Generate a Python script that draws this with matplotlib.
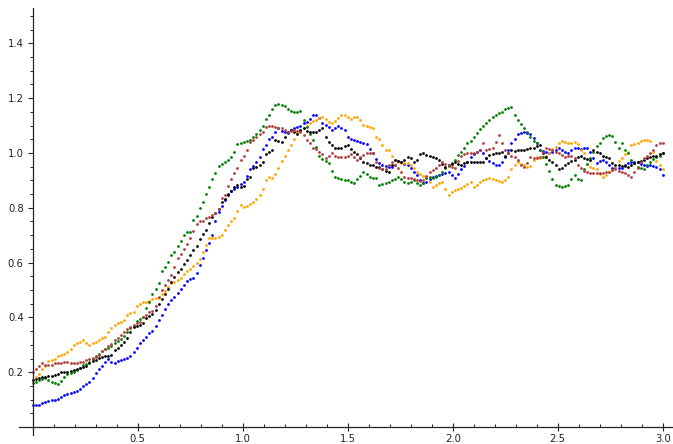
import numpy as np
import matplotlib
matplotlib.use("Agg")
import matplotlib.pyplot as plt
from matplotlib.ticker import FixedLocator

step = 0.015
x_values = [round(i * step, 3) for i in range(201)]

blue = [
    0.080, 0.079, 0.081, 0.086, 0.090, 0.094, 0.097, 0.100, 0.104, 0.109,
    0.117, 0.121, 0.124, 0.128, 0.131, 0.137, 0.148, 0.156, 0.165, 0.178,
    0.196, 0.210, 0.221, 0.238, 0.248, 0.236, 0.232, 0.240, 0.244, 0.247,
    0.252, 0.258, 0.272, 0.290, 0.306, 0.317, 0.330, 0.342, 0.350, 0.368,
    0.392, 0.410, 0.432, 0.448, 0.462, 0.476, 0.488, 0.505, 0.520, 0.534,
    0.540, 0.545, 0.562, 0.590, 0.618, 0.645, 0.672, 0.702, 0.750, 0.785,
    0.805, 0.830, 0.850, 0.862, 0.870, 0.876, 0.886, 0.893, 0.915, 0.940,
    0.952, 0.968, 0.985, 1.015, 1.030, 1.050, 1.060, 1.075, 1.090, 1.082,
    1.076, 1.072, 1.085, 1.092, 1.096, 1.100, 1.108, 1.112, 1.125, 1.138,
    1.140, 1.128, 1.110, 1.102, 1.094, 1.085, 1.090, 1.098, 1.093, 1.085,
    1.060, 1.052, 1.047, 1.044, 1.040, 1.038, 1.032, 1.015, 1.000, 0.978,
    0.962, 0.955, 0.952, 0.950, 0.948, 0.958, 0.970, 0.966, 0.960, 0.955,
    0.945, 0.932, 0.918, 0.902, 0.890, 0.895, 0.905, 0.912, 0.916, 0.920,
    0.924, 0.928, 0.930, 0.920, 0.910, 0.922, 0.940, 0.952, 0.968, 0.985,
    0.995, 1.003, 1.010, 1.000, 0.982, 0.972, 0.963, 0.956, 0.955, 0.966,
    0.985, 1.010, 1.035, 1.052, 1.068, 1.074, 1.078, 1.072, 1.068, 1.055,
    1.035, 1.012, 1.008, 1.005, 1.000, 1.004, 1.012, 1.017, 1.012, 1.004,
    1.000, 1.010, 1.020, 1.018, 1.015, 1.018, 1.020, 1.005, 0.980, 0.965,
    0.970, 0.975, 0.968, 0.955, 0.946, 0.944, 0.945, 0.947, 0.955, 0.962,
    0.967, 0.968, 0.966, 0.960, 0.955, 0.954, 0.956, 0.954, 0.948, 0.940,
    0.920,
]

orange = [
    0.170, 0.182, 0.195, 0.210, 0.222, 0.240, 0.246, 0.250, 0.258, 0.262,
    0.266, 0.272, 0.285, 0.300, 0.308, 0.312, 0.318, 0.305, 0.300, 0.308,
    0.310, 0.316, 0.324, 0.330, 0.345, 0.362, 0.372, 0.378, 0.382, 0.392,
    0.410, 0.416, 0.418, 0.440, 0.448, 0.455, 0.456, 0.460, 0.468, 0.470,
    0.470, 0.486, 0.496, 0.510, 0.525, 0.530, 0.535, 0.545, 0.560, 0.570,
    0.578, 0.586, 0.598, 0.612, 0.640, 0.665, 0.690, 0.690, 0.690, 0.694,
    0.700, 0.720, 0.738, 0.750, 0.762, 0.788, 0.812, 0.802, 0.806, 0.815,
    0.822, 0.832, 0.845, 0.870, 0.900, 0.912, 0.910, 0.925, 0.945, 0.970,
    0.990, 1.010, 1.030, 1.050, 1.072, 1.080, 1.090, 1.098, 1.108, 1.115,
    1.122, 1.128, 1.132, 1.124, 1.112, 1.108, 1.115, 1.128, 1.140, 1.138,
    1.130, 1.125, 1.130, 1.132, 1.120, 1.102, 1.100, 1.096, 1.092, 1.060,
    1.050, 1.030, 1.010, 1.010, 0.990, 0.975, 0.967, 0.965, 0.962, 0.963,
    0.955, 0.945, 0.932, 0.925, 0.915, 0.910, 0.895, 0.876, 0.882, 0.890,
    0.894, 0.870, 0.848, 0.858, 0.866, 0.870, 0.872, 0.880, 0.886, 0.894,
    0.876, 0.882, 0.895, 0.900, 0.905, 0.910, 0.906, 0.900, 0.897, 0.894,
    0.902, 0.912, 0.940, 0.955, 0.967, 0.960, 0.955, 0.950, 0.952, 0.975,
    0.985, 0.980, 0.984, 0.990, 1.000, 1.015, 1.022, 1.035, 1.045, 1.040,
    1.035, 1.038, 1.040, 1.032, 1.010, 1.000, 0.960, 0.948, 0.944, 0.940,
    0.925, 0.912, 0.920, 0.930, 0.938, 0.945, 0.970, 0.982, 0.995, 1.005,
    1.030, 1.034, 1.036, 1.042, 1.047, 1.048, 1.045, 1.005, 0.972, 0.955,
    0.940,
]

green = [
    0.160, 0.165, 0.170, 0.176, 0.178, 0.172, 0.166, 0.162, 0.157, 0.168,
    0.182, 0.194, 0.198, 0.202, 0.208, 0.216, 0.226, 0.230, 0.237, 0.248,
    0.260, 0.268, 0.278, 0.284, 0.290, 0.294, 0.306, 0.314, 0.322, 0.332,
    0.345, 0.360, 0.370, 0.388, 0.394, 0.402, 0.434, 0.458, 0.485, 0.505,
    0.526, 0.568, 0.585, 0.602, 0.628, 0.640, 0.660, 0.680, 0.700, 0.710,
    0.712, 0.755, 0.770, 0.800, 0.820, 0.850, 0.875, 0.905, 0.928, 0.952,
    0.960, 0.968, 0.975, 0.985, 1.005, 1.032, 1.038, 1.040, 1.044, 1.047,
    1.058, 1.068, 1.085, 1.100, 1.125, 1.140, 1.160, 1.175, 1.180, 1.176,
    1.170, 1.162, 1.152, 1.150, 1.148, 1.152, 1.120, 1.095, 1.070, 1.048,
    1.022, 0.990, 0.978, 0.972, 0.962, 0.935, 0.912, 0.908, 0.905, 0.900,
    0.900, 0.894, 0.890, 0.905, 0.915, 0.930, 0.922, 0.912, 0.910, 0.908,
    0.883, 0.886, 0.890, 0.895, 0.900, 0.905, 0.912, 0.905, 0.895, 0.890,
    0.895, 0.900, 0.892, 0.883, 0.890, 0.910, 0.912, 0.910, 0.912, 0.920,
    0.930, 0.945, 0.952, 0.965, 0.975, 0.992, 1.005, 1.020, 1.036, 1.045,
    1.060, 1.072, 1.088, 1.098, 1.110, 1.120, 1.130, 1.138, 1.145, 1.150,
    1.162, 1.166, 1.168, 1.140, 1.122, 1.105, 1.090, 1.078, 1.060, 1.045,
    1.035, 1.010, 0.985, 0.960, 0.935, 0.905, 0.885, 0.880, 0.876, 0.880,
    0.883, 0.905, 0.920, 0.905, 0.900, 0.940, 0.960, 0.980, 1.005, 1.025,
    1.036, 1.055, 1.062, 1.066, 1.062, 1.040, 1.020, 1.036, 1.012, 1.000,
    0.975, 0.963, 0.950, 0.944, 0.940, 0.955, 0.967, 0.978, 0.985, 0.990,
    1.000,
]

black = [
    0.170, 0.174, 0.178, 0.181, 0.183, 0.185, 0.186, 0.189, 0.193, 0.200,
    0.200, 0.199, 0.203, 0.207, 0.210, 0.214, 0.220, 0.224, 0.232, 0.240,
    0.246, 0.252, 0.256, 0.258, 0.260, 0.262, 0.280, 0.290, 0.300, 0.312,
    0.326, 0.345, 0.365, 0.368, 0.372, 0.378, 0.396, 0.404, 0.412, 0.428,
    0.450, 0.468, 0.485, 0.505, 0.530, 0.546, 0.565, 0.578, 0.596, 0.610,
    0.628, 0.645, 0.662, 0.685, 0.705, 0.720, 0.745, 0.765, 0.780, 0.795,
    0.820, 0.832, 0.845, 0.860, 0.875, 0.882, 0.876, 0.880, 0.905, 0.912,
    0.945, 0.950, 0.958, 0.967, 0.995, 1.002, 1.010, 1.047, 1.044, 1.040,
    1.060, 1.075, 1.084, 1.075, 1.070, 1.085, 1.090, 1.080, 1.077, 1.076,
    1.077, 1.085, 1.090, 1.058, 1.040, 1.028, 1.020, 1.018, 1.020, 1.025,
    1.030, 1.015, 1.005, 0.995, 0.980, 0.967, 0.962, 0.958, 0.955, 0.950,
    0.948, 0.942, 0.935, 0.930, 0.955, 0.975, 0.970, 0.967, 0.975, 0.985,
    0.980, 0.967, 0.975, 0.995, 1.000, 0.992, 0.990, 0.985, 0.980, 0.975,
    0.960, 0.950, 0.955, 0.960, 0.967, 0.960, 0.955, 0.962, 0.967, 0.967,
    0.967, 0.966, 0.968, 0.967, 0.980, 0.992, 0.995, 1.000, 1.000, 1.004,
    0.990, 1.000, 1.010, 1.008, 1.010, 1.012, 1.010, 1.015, 1.018, 1.020,
    1.025, 1.030, 1.000, 0.985, 0.975, 0.967, 0.955, 0.940, 0.945, 0.958,
    0.965, 0.970, 0.975, 0.985, 0.990, 0.982, 0.978, 0.975, 1.010, 1.005,
    1.000, 0.990, 0.985, 0.980, 0.965, 0.955, 0.955, 0.954, 0.952, 0.950,
    0.955, 0.965, 0.967, 0.972, 0.975, 0.980, 0.985, 0.988, 0.990, 0.998,
    1.000,
]

brown = [
    0.200, 0.210, 0.222, 0.232, 0.228, 0.226, 0.228, 0.232, 0.233, 0.235,
    0.238, 0.236, 0.234, 0.233, 0.232, 0.236, 0.238, 0.245, 0.250, 0.252,
    0.255, 0.262, 0.276, 0.286, 0.294, 0.302, 0.316, 0.326, 0.336, 0.345,
    0.358, 0.366, 0.372, 0.380, 0.385, 0.400, 0.410, 0.418, 0.425, 0.440,
    0.475, 0.500, 0.520, 0.535, 0.555, 0.585, 0.615, 0.632, 0.650, 0.668,
    0.690, 0.715, 0.740, 0.750, 0.752, 0.762, 0.765, 0.775, 0.782, 0.795,
    0.835, 0.848, 0.880, 0.905, 0.928, 0.945, 0.975, 0.990, 1.010, 1.040,
    1.048, 1.058, 1.070, 1.075, 1.095, 1.100, 1.098, 1.095, 1.092, 1.090,
    1.085, 1.077, 1.080, 1.084, 1.082, 1.075, 1.065, 1.047, 1.038, 1.020,
    1.015, 1.005, 0.995, 0.980, 0.990, 1.000, 0.990, 0.985, 0.984, 0.986,
    0.990, 0.998, 0.985, 0.975, 0.985, 0.992, 1.000, 1.000, 1.000, 0.967,
    0.945, 0.940, 0.942, 0.955, 0.967, 0.955, 0.945, 0.930, 0.912, 0.910,
    0.908, 0.905, 0.900, 0.898, 0.900, 0.915, 0.930, 0.938, 0.945, 0.955,
    0.967, 0.960, 0.955, 0.948, 0.945, 0.970, 0.990, 0.995, 1.000, 1.000,
    1.000, 1.002, 1.010, 1.036, 1.012, 1.015, 1.020, 1.040, 1.066, 1.036,
    1.010, 1.000, 0.990, 0.985, 0.975, 0.955, 0.950, 0.965, 0.985, 0.982,
    0.980, 0.985, 1.005, 1.020, 1.015, 1.010, 1.005, 1.000, 0.992, 0.985,
    0.988, 0.990, 0.980, 0.955, 0.945, 0.935, 0.930, 0.928, 0.927, 0.927,
    0.927, 0.928, 0.930, 0.932, 0.938, 0.940, 0.935, 0.930, 0.928, 0.920,
    0.912, 0.930, 0.945, 0.967, 0.980, 0.990, 1.000, 1.010, 1.030, 1.035,
    1.036,
]

series = [
    (blue, "#0000ff"),
    (orange, "#ffa500"),
    (green, "#008000"),
    (black, "#000000"),
    (brown, "#b03c3c"),
]

x_major = [0.5, 1.0, 1.5, 2.0, 2.5, 3.0]
x_labels = ["0.5", "1.0", "1.5", "2.0", "2.5", "3.0"]
y_major = [0.2, 0.4, 0.6, 0.8, 1.0, 1.2, 1.4]
y_labels = ["0.2", "0.4", "0.6", "0.8", "1.0", "1.2", "1.4"]

W, H = 673, 444
fig = plt.figure(figsize=(W / 100, H / 100), dpi=100)
ax = fig.add_axes([0, 0, 1, 1])
fig.patch.set_facecolor("white")
ax.set_facecolor("white")

x0_px, ppx = 32.7, 210.0
y0_px, ppy = 427.0, 274.0
ax.set_xlim(-x0_px / ppx, (W - x0_px) / ppx)
ax.set_ylim(-(H - y0_px) / ppy, y0_px / ppy)

for vals, col in series:
    ax.plot(x_values, vals, linestyle="none", marker="o", markersize=2.0,
            markeredgewidth=0, color=col)

for s in ["top", "right"]:
    ax.spines[s].set_visible(False)
ax.spines["left"].set_position(("data", 0))
ax.spines["bottom"].set_position(("data", 0))
ax.spines["left"].set_bounds(-0.03, 1.53)
ax.spines["bottom"].set_bounds(-0.065, 3.1)
for s in ["left", "bottom"]:
    ax.spines[s].set_color("#222222")
    ax.spines[s].set_linewidth(0.9)

ax.xaxis.set_major_locator(FixedLocator(x_major))
ax.set_xticklabels(x_labels)
ax.xaxis.set_minor_locator(FixedLocator([i / 10 for i in range(1, 31) if i % 5 != 0]))
ax.yaxis.set_major_locator(FixedLocator(y_major))
ax.set_yticklabels(y_labels)
ax.yaxis.set_minor_locator(FixedLocator([0.05 * i for i in range(1, 31) if i % 4 != 0]))

ax.tick_params(axis="x", which="major", direction="inout", length=6, width=0.8,
               color="#222222", labelsize=7.2, labelcolor="#222222", pad=2)
ax.tick_params(axis="x", which="minor", direction="in", length=2.5, width=0.7,
               color="#222222")
ax.tick_params(axis="y", which="major", direction="out", length=3.5, width=0.8,
               color="#222222", labelsize=7.2, labelcolor="#222222", pad=3)
ax.tick_params(axis="y", which="minor", direction="out", length=2, width=0.7,
               color="#222222")

fig.savefig("out.png", dpi=100)
